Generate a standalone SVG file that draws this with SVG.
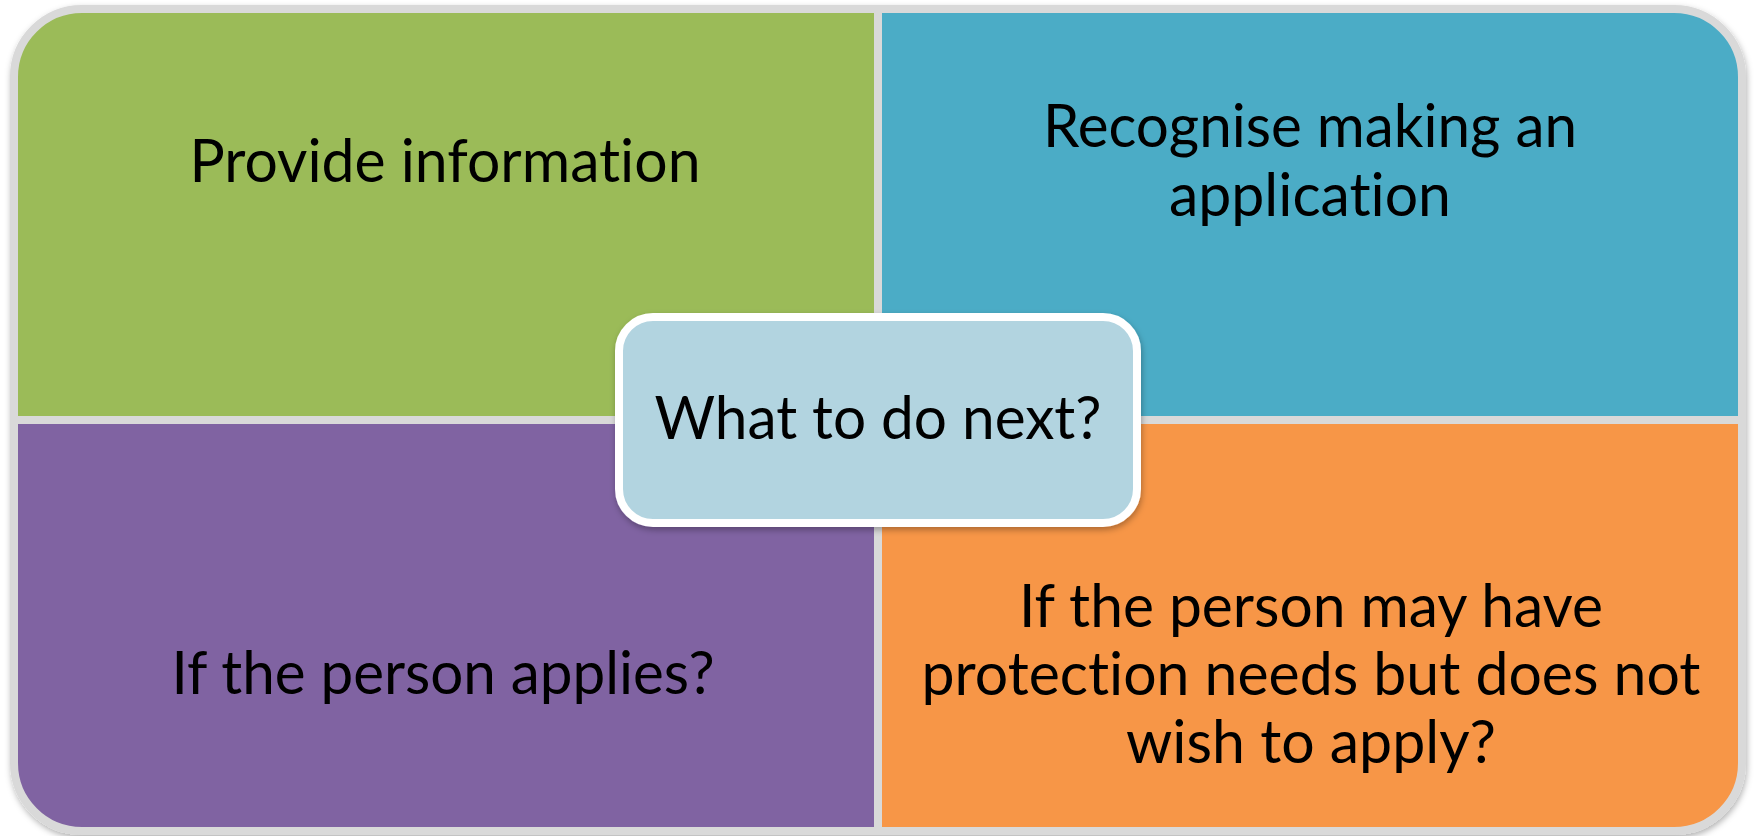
<svg xmlns="http://www.w3.org/2000/svg" width="1755" height="836" viewBox="0 0 1755 836">
  <defs>
    <filter id="shadow" x="-5%" y="-5%" width="110%" height="115%">
      <feDropShadow dx="1" dy="3" stdDeviation="3" flood-color="#000" flood-opacity="0.3"/>
    </filter>
    <style>
      .quad { stroke: #d9d9d9; stroke-width: 8; stroke-linejoin: miter; }
      .hub { fill: #b2d4e0; stroke: #ffffff; stroke-width: 8; }
      .label { font-family: Lato, "Liberation Sans", sans-serif; font-size: 60px; fill: #000; text-anchor: middle;
               font-variant-ligatures: none; font-feature-settings: "liga" 0, "clig" 0; }
    </style>
  </defs>
  <rect width="1755" height="836" fill="#ffffff"/>

  <!-- four matrix quadrants -->
  <g id="quadrants" filter="url(#shadow)">
    <g id="provide-information">
      <path class="quad" fill="#9bbb59" d="M14,420 V77 A68,68 0 0 1 82,9 H878 V420 Z"/>
      <text class="label" x="445" y="182" textLength="511" lengthAdjust="spacingAndGlyphs">Provide information</text>
    </g>
    <g id="recognise-application">
      <path class="quad" fill="#4bacc6" d="M878,9 H1674 A68,68 0 0 1 1742,77 V420 H878 Z"/>
      <text class="label" x="1310" y="147" textLength="534" lengthAdjust="spacingAndGlyphs">Recognise making an</text>
      <text class="label" x="1310" y="216" textLength="282" lengthAdjust="spacingAndGlyphs">application</text>
    </g>
    <g id="person-applies">
      <path class="quad" fill="#8064a2" d="M14,420 H878 V831 H82 A68,68 0 0 1 14,763 Z"/>
      <text class="label" x="443" y="694" textLength="543" lengthAdjust="spacingAndGlyphs">If the person applies?</text>
    </g>
    <g id="does-not-wish-to-apply">
      <path class="quad" fill="#f79646" d="M878,420 H1742 V763 A68,68 0 0 1 1674,831 H878 Z"/>
      <text class="label" x="1311" y="627" textLength="584" lengthAdjust="spacingAndGlyphs">If the person may have</text>
      <text class="label" x="1311" y="695" textLength="779" lengthAdjust="spacingAndGlyphs">protection needs but does not</text>
      <text class="label" x="1311" y="763" textLength="370" lengthAdjust="spacingAndGlyphs">wish to apply?</text>
    </g>
  </g>

  <!-- central question -->
  <g id="what-next" filter="url(#shadow)">
    <rect class="hub" x="619" y="317" width="518" height="206" rx="34" ry="34"/>
    <text class="label" x="878" y="439" textLength="447" lengthAdjust="spacingAndGlyphs">What to do next?</text>
  </g>
</svg>
